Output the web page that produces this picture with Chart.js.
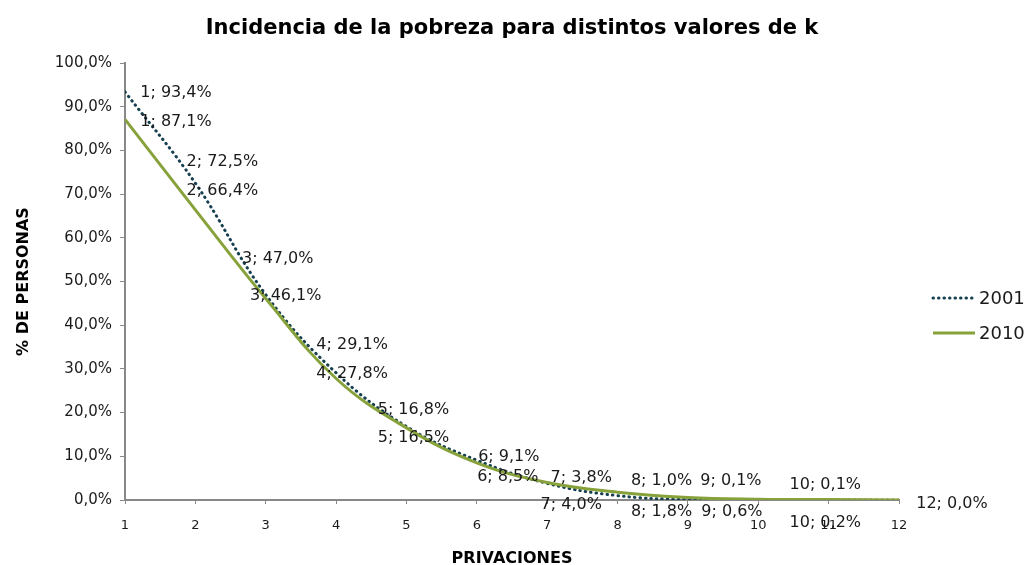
<!DOCTYPE html>
<html>
<head>
<meta charset="utf-8">
<script src="https://cdn.jsdelivr.net/npm/chart.js@4"></script>
<style>
  html, body { margin: 0; padding: 0; background: #fff; }
  #wrap { width: 1032px; height: 565px; }
</style>
</head>
<body>
<div id="wrap"><canvas id="povertyChart" width="1032" height="565"></canvas></div>
<script>
const privaciones = [1, 2, 3, 4, 5, 6, 7, 8, 9, 10, 11, 12];
const serie2001 = [93.4, 72.5, 47.0, 29.1, 16.8, 9.1, 3.8, 1.0, 0.1, 0.1, 0.0, 0.0];
const serie2010 = [87.1, 66.4, 46.1, 27.8, 16.5, 8.5, 4.0, 1.8, 0.6, 0.2, 0.1, 0.0];
const seriesNames = ['2001', '2010'];
const chartTitle = 'Incidencia de la pobreza para distintos valores de k';

const FONT = "'DejaVu Sans', sans-serif";
const fmtPct = v => v.toFixed(1).replace('.', ',') + '%';

// hand-placed label offsets (dx, dy from the point), like the moved labels in the original
const labelOffsets = [
    [[51, 1], [27, -21], [12, -36], [16, -28], [7, -17], [32, -3], [34, -6], [44, -15], [43, -19], [67, -15], null, [53, 4]],
    [[51, 2], [27, -19], [20, -3], [16, -5], [7, 10], [31, 14], [24, 22], [44, 20], [44, 14], [67, 24], null, null]
];

const pointLabels = {
    id: 'pointLabels',
    afterDatasetsDraw(chart) {
        const ctx = chart.ctx;
        ctx.save();
        ctx.font = '16px ' + FONT;
        ctx.fillStyle = '#1a1a1a';
        ctx.textAlign = 'center';
        ctx.textBaseline = 'middle';
        chart.data.datasets.forEach((ds, di) => {
            const meta = chart.getDatasetMeta(di);
            meta.data.forEach((pt, i) => {
                const off = labelOffsets[di][i];
                if (!off) return;
                ctx.fillText(privaciones[i] + '; ' + fmtPct(ds.data[i].y), pt.x + off[0], pt.y + off[1]);
            });
        });
        ctx.restore();
    }
};

// title centred over the plot area, plus the legend at the right
const decorations = {
    id: 'decorations',
    afterDraw(chart) {
        const ctx = chart.ctx;
        const area = chart.chartArea;
        ctx.save();
        ctx.font = 'bold 21px ' + FONT;
        ctx.fillStyle = '#000';
        ctx.textAlign = 'center';
        ctx.textBaseline = 'middle';
        ctx.fillText(chartTitle, (area.left + area.right) / 2, 29);

        ctx.font = '18px ' + FONT;
        ctx.fillStyle = '#1a1a1a';
        ctx.textAlign = 'left';
        chart.data.datasets.forEach((ds, di) => {
            const y = 298 + di * 35;
            ctx.strokeStyle = ds.borderColor;
            ctx.lineWidth = ds.borderWidth;
            ctx.lineCap = di === 0 ? 'round' : 'butt';
            ctx.setLineDash(ds.borderDash || []);
            ctx.beginPath();
            ctx.moveTo(933, y);
            ctx.lineTo(975, y);
            ctx.stroke();
            ctx.setLineDash([]);
            ctx.fillText(ds.label, 979, y + 1);
        });
        ctx.restore();
    }
};

const toPoints = arr => arr.map((v, i) => ({ x: privaciones[i], y: v }));

new Chart(document.getElementById('povertyChart'), {
    type: 'line',
    data: {
        datasets: [
            {
                label: seriesNames[0],
                data: toPoints(serie2001),
                borderColor: '#16404f',
                borderWidth: 3,
                borderDash: [0.5, 5],
                borderCapStyle: 'round',
                pointRadius: 0,
                tension: 0.4,
                order: 1
            },
            {
                label: seriesNames[1],
                data: toPoints(serie2010),
                borderColor: '#87a23a',
                borderWidth: 3,
                pointRadius: 0,
                tension: 0.4,
                order: 0
            }
        ]
    },
    options: {
        responsive: false,
        animation: false,
        layout: { padding: { left: 0, right: 133, top: 63, bottom: 0 } },
        plugins: {
            legend: { display: false },
            tooltip: { enabled: false },
            title: { display: false }
        },
        scales: {
            x: {
                type: 'linear',
                min: 1,
                max: 12,
                afterFit: s => { s.height = 65; },
                ticks: { stepSize: 1, color: '#1a1a1a', font: { family: FONT, size: 13 }, padding: 14, maxRotation: 0 },
                grid: { drawOnChartArea: false, drawTicks: true, tickLength: 4, color: '#888', lineWidth: 1 },
                border: { display: true, color: '#888', width: 2 },
                title: {
                    display: true,
                    text: 'PRIVACIONES',
                    color: '#000',
                    font: { family: FONT, size: 16, weight: 'bold' },
                    padding: { top: 0, bottom: -3 }
                }
            },
            y: {
                min: 0,
                max: 100,
                afterFit: s => { s.width = 125; },
                ticks: { stepSize: 10, color: '#1a1a1a', font: { family: FONT, size: 15 }, padding: 8, callback: v => fmtPct(v) },
                grid: { drawOnChartArea: false, drawTicks: true, tickLength: 5, color: '#888', lineWidth: 1 },
                border: { display: true, color: '#888', width: 2 },
                title: {
                    display: true,
                    text: '% DE PERSONAS',
                    color: '#000',
                    font: { family: FONT, size: 16, weight: 'bold' },
                    padding: { top: 14, bottom: 0 }
                }
            }
        }
    },
    plugins: [pointLabels, decorations]
});
</script>
</body>
</html>
